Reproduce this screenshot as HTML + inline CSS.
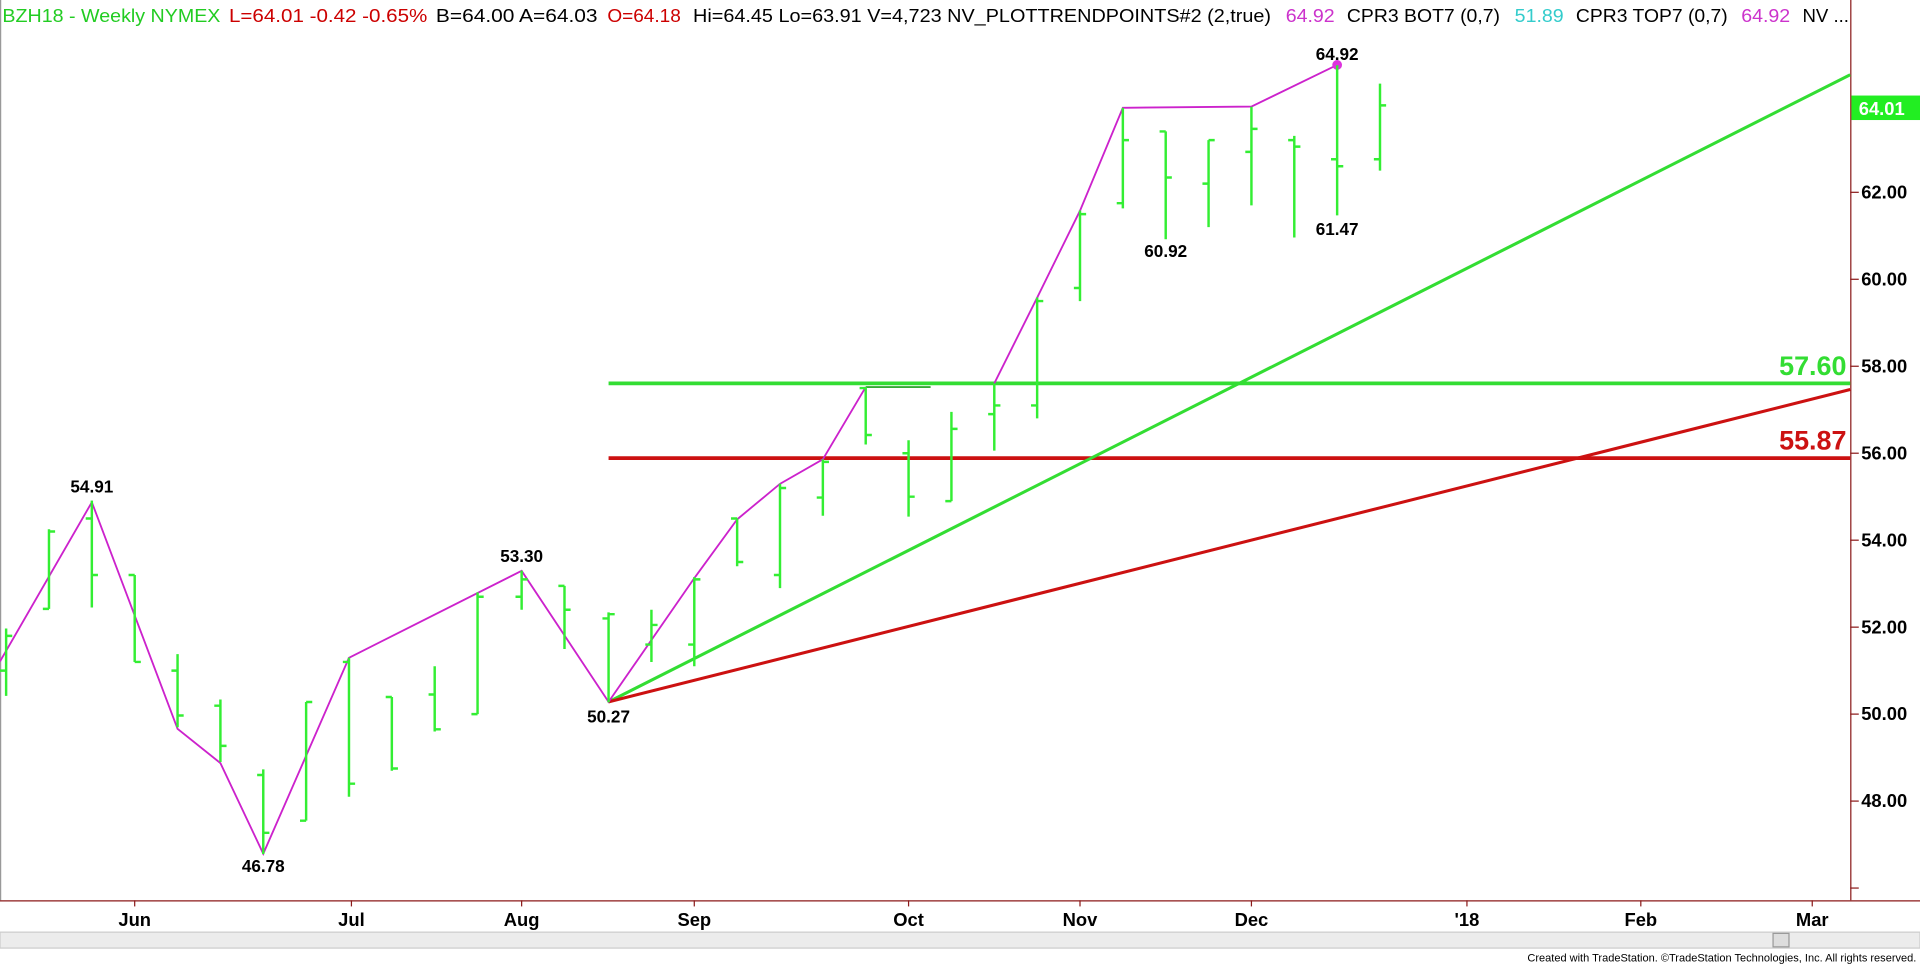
<!DOCTYPE html>
<html><head><meta charset="utf-8"><style>
html,body{margin:0;padding:0;background:#fff;overflow:hidden}
svg{display:block}
text{font-family:"Liberation Sans",Arial,sans-serif}
</style></head><body>
<svg width="1920" height="964" viewBox="0 0 1568 787" preserveAspectRatio="none" xmlns="http://www.w3.org/2000/svg">
<rect width="1568" height="787" fill="#fff"/>
<g font-size="15">
<text x="2" y="18" fill="#22cc22" textLength="178" lengthAdjust="spacingAndGlyphs">BZH18 - Weekly  NYMEX</text>
<text x="187" y="18" fill="#cc0000" textLength="162" lengthAdjust="spacingAndGlyphs">L=64.01  -0.42  -0.65%</text>
<text x="356" y="18" fill="#000" textLength="132" lengthAdjust="spacingAndGlyphs">B=64.00  A=64.03</text>
<text x="496" y="18" fill="#cc0000" textLength="60" lengthAdjust="spacingAndGlyphs">O=64.18</text>
<text x="566" y="18" fill="#000" textLength="472" lengthAdjust="spacingAndGlyphs">Hi=64.45  Lo=63.91  V=4,723  NV_PLOTTRENDPOINTS#2 (2,true)</text>
<text x="1050" y="18" fill="#cc33cc" textLength="40" lengthAdjust="spacingAndGlyphs">64.92</text>
<text x="1100" y="18" fill="#000" textLength="125" lengthAdjust="spacingAndGlyphs">CPR3 BOT7 (0,7)</text>
<text x="1237" y="18" fill="#33cccc" textLength="40" lengthAdjust="spacingAndGlyphs">51.89</text>
<text x="1287" y="18" fill="#000" textLength="124" lengthAdjust="spacingAndGlyphs">CPR3 TOP7 (0,7)</text>
<text x="1422" y="18" fill="#cc33cc" textLength="40" lengthAdjust="spacingAndGlyphs">64.92</text>
<text x="1472" y="18" fill="#000" textLength="38" lengthAdjust="spacingAndGlyphs">NV ...</text>
</g>
<line x1="0.5" y1="0" x2="0.5" y2="735" stroke="#999"/>
<line x1="1511.5" y1="0" x2="1511.5" y2="735" stroke="#8b1a1a"/>
<line x1="0" y1="735.5" x2="1568" y2="735.5" stroke="#8b1a1a"/>
<g font-size="15" font-weight="bold" fill="#000" stroke="none">
<text x="1520" y="162">62.00</text><text x="1520" y="233">60.00</text><text x="1520" y="304">58.00</text><text x="1520" y="375">56.00</text>
<text x="1520" y="446">54.00</text><text x="1520" y="517">52.00</text><text x="1520" y="588">50.00</text><text x="1520" y="659">48.00</text>
</g>
<g stroke="#8b1a1a">
<line x1="1511" y1="157" x2="1518" y2="157"/><line x1="1511" y1="228" x2="1518" y2="228"/><line x1="1511" y1="299" x2="1518" y2="299"/><line x1="1511" y1="370" x2="1518" y2="370"/><line x1="1511" y1="441" x2="1518" y2="441"/><line x1="1511" y1="512" x2="1518" y2="512"/><line x1="1511" y1="583" x2="1518" y2="583"/><line x1="1511" y1="654" x2="1518" y2="654"/><line x1="1511" y1="725" x2="1518" y2="725"/>
</g>
<rect x="1512" y="78" width="56" height="20" fill="#22ee22"/>
<text x="1518" y="94" font-size="15" font-weight="bold" fill="#fff">64.01</text>
<g font-size="15" font-weight="bold" fill="#000" text-anchor="middle">
<text x="110" y="756">Jun</text><text x="287" y="756">Jul</text><text x="426" y="756">Aug</text>
<text x="567" y="756">Sep</text><text x="742" y="756">Oct</text><text x="882" y="756">Nov</text>
<text x="1022" y="756">Dec</text><text x="1198" y="756">'18</text><text x="1340" y="756">Feb</text><text x="1480" y="756">Mar</text>
</g>
<g stroke="#8b1a1a">
<line x1="110" y1="735" x2="110" y2="740"/><line x1="287" y1="735" x2="287" y2="740"/><line x1="426" y1="735" x2="426" y2="740"/><line x1="567" y1="735" x2="567" y2="740"/><line x1="742" y1="735" x2="742" y2="740"/><line x1="882" y1="735" x2="882" y2="740"/><line x1="1022" y1="735" x2="1022" y2="740"/><line x1="1198" y1="735" x2="1198" y2="740"/><line x1="1340" y1="735" x2="1340" y2="740"/><line x1="1480" y1="735" x2="1480" y2="740"/>
</g>
<rect x="0" y="761" width="1568" height="13" fill="#ececec" stroke="#ccc"/>
<rect x="1448" y="762" width="13" height="11" fill="#ddd" stroke="#999"/>
<text x="1565" y="785" font-size="9" text-anchor="end" fill="#000">Created with TradeStation. ©TradeStation Technologies, Inc. All rights reserved.</text>
<line x1="497" y1="313" x2="1511" y2="313" stroke="#33dd33" stroke-width="3"/>
<line x1="497" y1="374" x2="1511" y2="374" stroke="#cc1111" stroke-width="3"/>
<text x="1508" y="306" font-size="22" font-weight="bold" fill="#33dd33" text-anchor="end">57.60</text>
<text x="1508" y="367" font-size="22" font-weight="bold" fill="#cc1111" text-anchor="end">55.87</text>
<line x1="497" y1="573" x2="1511" y2="61" stroke="#33dd33" stroke-width="2.5"/>
<line x1="497" y1="573" x2="1511" y2="318" stroke="#cc1111" stroke-width="2.5"/>
<polyline fill="none" stroke="#cc22cc" stroke-width="1.5" points="0,540 75,410 145,595 180,623 215,697 285,537 426,466 497,573 567,472 602,424 637,395 672,375 707,316"/>
<polyline fill="none" stroke="#cc22cc" stroke-width="1.5" points="812,313 847,243 882,172 917,88 1022,87 1092,53"/>
<line x1="707" y1="316" x2="760" y2="316" stroke="#33aa33" stroke-width="1.5"/>
<circle cx="1092" cy="53" r="4" fill="#dd33dd"/>
<g stroke="#33ee33" stroke-width="2" fill="none">
<path d="M5 513.1V568.1M0 547.5H5M5 519.1H10"/>
<path d="M40 432.1V497.1M35 497.1H40M40 433.9H45"/>
<path d="M75 408.7V496M70 423.3H75M75 469.4H80"/>
<path d="M110 469.4V540.4M105 469.4H110M110 540.4H115"/>
<path d="M145 534V593.7M140 547.5H145M145 584.1H150"/>
<path d="M180 571.1V622.1M175 576.1H180M180 608.9H185"/>
<path d="M215 628.1V697.3M210 632.7H215M215 679.9H220"/>
<path d="M250 573.1V670M245 670H250M250 573.1H255"/>
<path d="M285 536.9V650.5M280 540.4H285M285 639.8H290"/>
<path d="M320 569V629.2M315 569H320M320 627.4H325"/>
<path d="M355 543.9V597.2M350 567H355M355 595.4H360"/>
<path d="M390 483.6V583M385 583H390M390 487.2H395"/>
<path d="M426 465.9V497.8M421 487.2H426M426 473H431"/>
<path d="M461 478.3V529.8M456 478.3H461M461 497.8H466"/>
<path d="M497 499.9V573.4M492 504.9H497M497 501.4H502"/>
<path d="M532 497.8V540.4M527 526.2H532M532 510.2H537"/>
<path d="M567 471.2V543.9M562 526.2H567M567 473H572"/>
<path d="M602 423.3V462.3M597 423.3H602M602 458.8H607"/>
<path d="M637 394.9V480.1M632 469.4H637M637 398.4H642"/>
<path d="M672 375V421.1M667 406.2H672M672 377.1H677"/>
<path d="M707 316V362.9M702 316.8H707M707 355.1H712"/>
<path d="M742 359.4V421.8M737 370H742M742 405.5H747"/>
<path d="M777 336.3V409.1M772 409.1H777M777 350.1H782"/>
<path d="M812 313.2V367.9M807 338.1H812M812 331H817"/>
<path d="M847 242.9V341.6M842 331H847M847 245.8H852"/>
<path d="M882 171.9V245.8M877 235.1H882M882 174.8H887"/>
<path d="M917 88.1V170.1M912 165.9H917M917 114.4H922"/>
<path d="M952 107.3V195.3M947 107.3H952M952 144.9H957"/>
<path d="M987 114.4V185.4M982 149.9H987M987 114.4H992"/>
<path d="M1022 87.1V167.7M1017 124H1022M1022 105.2H1027"/>
<path d="M1057 110.9V193.9M1052 114.4H1057M1057 119.7H1062"/>
<path d="M1092 53.3V175.8M1087 130H1092M1092 135.7H1097"/>
<path d="M1127 68.3V139.3M1122 130H1127M1127 86H1132"/>
</g>
<g font-size="14" font-weight="bold" fill="#000" text-anchor="middle">
<text x="75" y="402">54.91</text><text x="215" y="712">46.78</text><text x="426" y="459">53.30</text>
<text x="497" y="590">50.27</text><text x="952" y="210">60.92</text><text x="1092" y="192">61.47</text><text x="1092" y="49">64.92</text>
</g>
</svg>
</body></html>
